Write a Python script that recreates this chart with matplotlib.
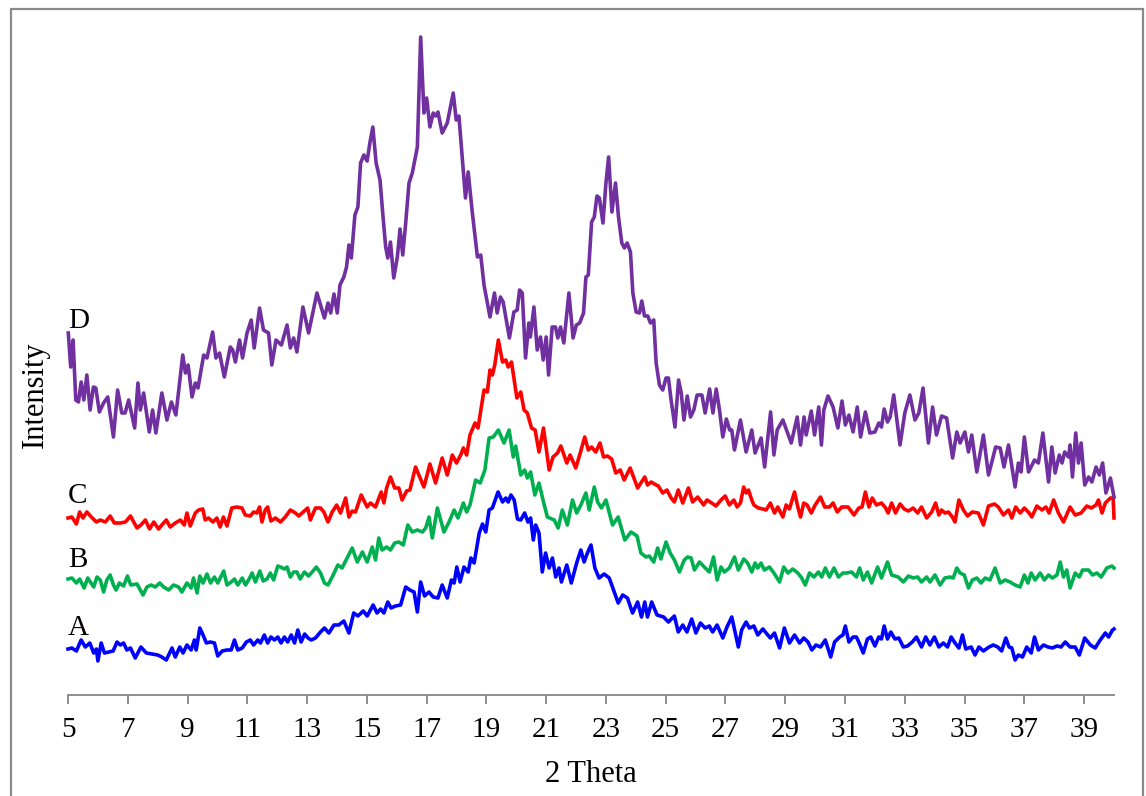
import matplotlib.pyplot as plt
from matplotlib.patches import Rectangle

# XRD patterns of the four samples (2 theta in degrees, intensity in arbitrary units,
# each trace already carries its own vertical offset)
a_theta = [5.00, 5.13, 5.28, 5.44, 5.58, 5.73, 5.86, 5.95, 6.00, 6.11, 6.22, 6.36, 6.51, 6.64, 6.75,
           6.86, 6.97, 7.09, 7.25, 7.44, 7.62, 7.81, 8.00, 8.14, 8.29, 8.48, 8.59, 8.74, 8.85, 8.98,
           9.12, 9.23, 9.29, 9.41, 9.52, 9.63, 9.76, 9.90, 10.01, 10.16, 10.32, 10.46, 10.57, 10.68,
           10.83, 10.97, 11.10, 11.21, 11.35, 11.44, 11.57, 11.68, 11.79, 11.91, 12.02, 12.13, 12.24,
           12.35, 12.47, 12.58, 12.69, 12.80, 12.92, 13.03, 13.14, 13.28,
           13.45, 13.58, 13.73, 13.90, 14.06, 14.23, 14.40, 14.56, 14.70, 14.88, 15.01, 15.21, 15.34,
           15.46, 15.57, 15.70, 15.81, 15.96, 16.13, 16.30, 16.44, 16.58, 16.69, 16.80, 16.93, 17.08,
           17.22, 17.38, 17.52, 17.69, 17.83, 17.92, 18.01, 18.12, 18.25, 18.39, 18.48, 18.59, 18.76,
           18.87, 18.98, 19.09, 19.20, 19.39, 19.54, 19.65, 19.73, 19.82, 19.93, 20.04, 20.15, 20.28,
           20.39, 20.48, 20.57, 20.65, 20.76, 20.87, 20.98, 21.10, 21.21, 21.32, 21.43, 21.51, 21.69,
           21.84, 22.02,
           22.16, 22.27, 22.38, 22.50, 22.63, 22.77, 22.94, 23.11, 23.28, 23.41, 23.56, 23.72, 23.89,
           24.06, 24.19, 24.30, 24.39, 24.53, 24.71, 24.93, 25.09, 25.29, 25.42, 25.57, 25.71, 25.87,
           26.01, 26.16, 26.32, 26.46, 26.57, 26.72, 26.91, 27.05, 27.21, 27.32, 27.43, 27.54, 27.69,
           27.80, 27.95, 28.08, 28.25, 28.36, 28.50, 28.64, 28.81, 28.97, 29.14, 29.31, 29.48, 29.62,
           29.76, 29.89, 30.03, 30.18, 30.34, 30.52, 30.65, 30.82, 30.93,
           31.01, 31.13, 31.27, 31.38, 31.46, 31.61, 31.75, 31.86, 32.00, 32.13, 32.22, 32.31, 32.42,
           32.53, 32.67, 32.80, 32.95, 33.09, 33.25, 33.39, 33.56, 33.70, 33.84, 33.99, 34.14, 34.29,
           34.43, 34.55, 34.68, 34.81, 34.93, 35.04, 35.22, 35.35, 35.48, 35.63, 35.82, 35.96, 36.11,
           36.24, 36.38, 36.49, 36.58, 36.69, 36.80, 36.94, 37.08, 37.23, 37.34, 37.47, 37.64, 37.79,
           37.94, 38.09, 38.23, 38.37, 38.53, 38.70, 38.84, 39.02, 39.21, 39.37, 39.54, 39.71, 39.82,
           39.95, 40.00]
a_int = [46, 47, 44, 55, 48, 52, 42, 46, 34, 52, 42, 43, 44, 53, 50,
         52, 45, 47, 37, 48, 42, 41, 40, 38, 35, 47, 38, 48, 42, 50,
         45, 55, 45, 67, 60, 52, 53, 52, 39, 44, 45, 45, 55, 45,
         47, 53, 55, 50, 55, 52, 60, 52, 58, 55, 58, 52, 58,
         53, 60, 52, 65, 53, 61, 57, 55, 57,
         63, 67, 62, 70, 70, 74, 62, 82, 79, 84, 79, 90, 82,
         86, 82, 93, 87, 89, 90, 108, 105, 103, 83, 113, 99, 103,
         98, 97, 110, 97, 115, 112, 128, 113, 128, 123, 137, 132, 162,
         171, 163, 185, 187, 203, 193, 197, 193, 200, 195, 176, 175, 182,
         173, 177, 155, 170, 162, 123, 142, 127, 137, 118, 127, 113, 130,
         112, 132,
         145, 133, 142, 150, 127, 117, 121, 117, 103, 92, 100, 97, 82,
         93, 78, 93, 78, 93, 80, 78, 73, 79, 63, 70, 63, 76,
         62, 72, 67, 69, 63, 70, 57, 68, 78, 63, 48, 65, 73,
         67, 69, 60, 66, 62, 57, 62, 47, 67, 52, 60, 52, 57,
         53, 45, 50, 48, 55, 38, 53, 58, 60,
         69, 53, 58, 58, 53, 42, 56, 58, 49, 58, 56, 69, 56,
         63, 56, 57, 48, 49, 53, 58, 48, 58, 50, 58, 48, 52,
         48, 58, 52, 47, 60, 46, 48, 40, 48, 44, 48, 50, 48,
         44, 57, 48, 47, 35, 40, 38, 48, 42, 58, 45, 50, 48,
         47, 49, 48, 53, 48, 48, 40, 57, 50, 47, 55, 62, 58,
         65, 66]

b_theta = [5.00, 5.13, 5.28, 5.39, 5.54, 5.66, 5.77, 5.86, 5.97, 6.08, 6.19, 6.30, 6.41, 6.52, 6.61,
           6.72, 6.86, 6.99, 7.10, 7.31, 7.51, 7.64, 7.78, 7.92, 8.07, 8.20, 8.37, 8.53, 8.70, 8.81,
           8.98, 9.12, 9.20, 9.32, 9.41, 9.52, 9.65, 9.77, 9.90, 10.01, 10.21, 10.32, 10.46, 10.57,
           10.68, 10.83, 10.94, 11.08, 11.16, 11.27, 11.42, 11.53, 11.66, 11.77, 11.88, 12.02, 12.11,
           12.24, 12.33, 12.44, 12.55, 12.66, 12.77, 12.91, 13.05, 13.20, 13.31,
           13.45, 13.58, 13.70, 13.84, 14.03, 14.17, 14.34, 14.51, 14.68, 14.85, 15.01, 15.18, 15.29,
           15.40, 15.51, 15.66, 15.79, 15.93, 16.07, 16.22, 16.37, 16.52, 16.69, 16.86, 16.97, 17.08,
           17.19, 17.36, 17.58, 17.75, 17.92, 18.05, 18.23, 18.34, 18.45, 18.64, 18.79, 18.95, 19.09,
           19.23, 19.40, 19.59, 19.76, 19.90, 19.98, 20.15, 20.28, 20.37, 20.48, 20.62, 20.76, 20.91,
           21.04, 21.27, 21.40, 21.54, 21.71, 21.88, 22.02,
           22.16, 22.33, 22.44, 22.61, 22.72, 22.85, 23.00, 23.22, 23.41, 23.63, 23.84, 24.04, 24.17,
           24.34, 24.45, 24.60, 24.73, 24.84, 25.01, 25.15, 25.29, 25.46, 25.62, 25.73, 25.85, 25.96,
           26.13, 26.29, 26.46, 26.60, 26.72, 26.85, 26.96, 27.13, 27.30, 27.43, 27.61, 27.74, 27.88,
           27.99, 28.08, 28.19, 28.30, 28.47, 28.62, 28.81, 28.95, 29.09, 29.25, 29.42, 29.55, 29.67,
           29.81, 29.96, 30.11, 30.22, 30.34, 30.48, 30.63, 30.78, 30.93,
           31.05, 31.22, 31.38, 31.49, 31.61, 31.75, 31.89, 32.09, 32.22, 32.42, 32.56, 32.78, 32.95,
           33.12, 33.28, 33.43, 33.56, 33.73, 33.84, 34.01, 34.18, 34.34, 34.51, 34.62, 34.74, 34.85,
           34.99, 35.13, 35.26, 35.41, 35.55, 35.69, 35.85, 36.02, 36.19, 36.36, 36.52, 36.69, 36.86,
           37.00, 37.12, 37.23, 37.36, 37.53, 37.67, 37.81, 37.94, 38.09, 38.20, 38.31, 38.42, 38.53,
           38.70, 38.84, 38.95, 39.15, 39.28, 39.43, 39.57, 39.76, 39.93, 40.00]
b_int = [116, 117, 112, 116, 107, 117, 112, 108, 118, 115, 103, 115, 120, 110, 105,
         112, 109, 119, 110, 111, 100, 108, 110, 108, 112, 108, 105, 110, 108, 103,
         112, 107, 117, 102, 119, 112, 121, 112, 118, 112, 124, 110, 113, 116,
         110, 117, 110, 117, 122, 113, 124, 114, 116, 122, 115, 129, 128,
         126, 128, 118, 123, 123, 116, 123, 119, 124, 128,
         122, 112, 110, 118, 130, 127, 137, 147, 133, 143, 133, 148, 135,
         157, 145, 148, 145, 152, 153, 150, 170, 163, 165, 163, 167, 178,
         157, 187, 163, 173, 185, 177, 192, 183, 190, 215, 212, 225, 257,
         258, 265, 252, 265, 238, 249, 220, 225, 217, 223, 200, 212, 193,
         178, 175, 167, 185, 170, 195, 182,
         190, 202, 185, 208, 193, 187, 195, 170, 178, 155, 163, 159, 142,
         138, 139, 133, 147, 136, 153, 142, 135, 123, 135, 138, 137, 125,
         133, 128, 123, 138, 115, 128, 123, 127, 138, 125, 136, 132, 123,
         132, 127, 132, 125, 128, 122, 113, 128, 122, 126, 122, 117, 110,
         122, 118, 123, 118, 127, 118, 127, 118, 122,
         122, 123, 118, 127, 115, 123, 112, 128, 117, 133, 120, 118, 113,
         119, 117, 118, 113, 118, 113, 120, 110, 117, 118, 117, 127, 122,
         120, 107, 115, 117, 112, 117, 115, 127, 112, 115, 113, 110, 108,
         120, 112, 122, 115, 122, 115, 120, 117, 120, 133, 118, 125, 107,
         122, 118, 125, 125, 120, 122, 118, 127, 129, 127]

c_theta = [5.00, 5.13, 5.28, 5.39, 5.50, 5.63, 5.78, 5.95, 6.08, 6.25, 6.41, 6.55, 6.75, 6.92, 7.09,
           7.31, 7.44, 7.59, 7.73, 7.87, 8.03, 8.14, 8.29, 8.42, 8.59, 8.76, 8.89, 8.98, 9.09, 9.26,
           9.37, 9.51, 9.59, 9.70, 9.85, 9.98, 10.09, 10.20, 10.32, 10.48, 10.65, 10.82, 10.93, 11.10,
           11.21, 11.32, 11.41, 11.49, 11.60, 11.68, 11.79, 11.94, 12.11, 12.27, 12.44, 12.61, 12.72,
           12.87, 13.02, 13.11, 13.28,
           13.45, 13.56, 13.70, 13.84, 13.99, 14.12, 14.29, 14.40, 14.51, 14.62, 14.81, 15.01, 15.12,
           15.29, 15.48, 15.57, 15.66, 15.79, 15.93, 16.07, 16.18, 16.33, 16.44, 16.63, 16.74, 16.91,
           17.11, 17.30, 17.52, 17.69, 17.86, 18.00, 18.14, 18.23, 18.34, 18.45, 18.62, 18.72, 18.92,
           19.03, 19.12, 19.20, 19.28, 19.40, 19.54, 19.65, 19.73, 19.84, 20.02, 20.15, 20.26, 20.37,
           20.51, 20.63, 20.76, 20.91, 21.10, 21.23, 21.38, 21.49, 21.69, 21.80, 21.99, 22.14,
           22.29, 22.41, 22.52, 22.66, 22.80, 22.92, 23.05, 23.19, 23.33, 23.48, 23.61, 23.81, 24.06,
           24.30, 24.39, 24.51, 24.62, 24.75, 24.90, 25.04, 25.18, 25.29, 25.42, 25.57, 25.76, 25.90,
           26.07, 26.27, 26.38, 26.54, 26.68, 26.85, 26.99, 27.13, 27.28, 27.39, 27.50, 27.61, 27.69,
           27.77, 27.88, 27.95, 28.10, 28.25, 28.36, 28.50, 28.64, 28.75, 28.92, 29.03, 29.14, 29.31,
           29.42, 29.51, 29.62, 29.73, 29.87, 30.00, 30.18, 30.32, 30.48, 30.60, 30.74, 30.89,
           31.10, 31.30, 31.46, 31.57, 31.68, 31.80, 31.91, 32.05, 32.22, 32.36, 32.44, 32.56, 32.69,
           32.84, 32.98, 33.12, 33.28, 33.43, 33.56, 33.73, 33.90, 34.03, 34.14, 34.23, 34.34, 34.46,
           34.59, 34.68, 34.81, 34.96, 35.10, 35.26, 35.46, 35.63, 35.80, 36.00, 36.13, 36.30, 36.47,
           36.58, 36.71, 36.86, 37.00, 37.16, 37.25, 37.42, 37.59, 37.72, 37.83, 37.98, 38.14, 38.31,
           38.53, 38.70, 38.90, 39.09, 39.24, 39.40, 39.48, 39.60, 39.71, 39.88, 39.97, 40.00]
c_int = [177, 178, 171, 183, 177, 183, 178, 173, 175, 173, 179, 172, 172, 173, 179,
         167, 170, 175, 166, 173, 166, 170, 175, 168, 172, 175, 170, 182, 169, 182,
         185, 186, 175, 177, 173, 177, 168, 178, 169, 187, 188, 187, 180, 179,
         183, 182, 188, 173, 185, 188, 174, 177, 173, 178, 185, 182, 179,
         183, 187, 175, 187,
         187, 183, 173, 183, 190, 182, 197, 178, 184, 183, 200, 188, 192,
         188, 203, 192, 207, 218, 207, 207, 195, 204, 205, 228, 220, 208,
         231, 212, 237, 220, 240, 232, 240, 247, 240, 260, 272, 267, 305,
         303, 325, 320, 330, 355, 333, 335, 328, 333, 297, 303, 285, 282,
         267, 265, 243, 267, 225, 238, 242, 249, 232, 240, 227, 242,
         258, 245, 248, 243, 252, 238, 239, 236, 222, 225, 215, 227, 207,
         218, 210, 213, 211, 209, 202, 205, 197, 193, 205, 192, 207, 193,
         198, 190, 195, 192, 189, 195, 199, 190, 195, 188, 192, 208, 202,
         205, 195, 190, 187, 186, 185, 192, 182, 188, 178, 190, 186, 203,
         188, 178, 192, 190, 182, 190, 198, 188, 188, 192, 183, 188,
         188, 180, 187, 188, 203, 188, 197, 190, 192, 187, 182, 192, 182,
         191, 186, 184, 187, 182, 188, 177, 183, 192, 180, 185, 182, 183,
         178, 173, 195, 185, 179, 183, 182, 170, 189, 191, 188, 180, 185,
         177, 188, 182, 187, 182, 178, 189, 185, 188, 182, 195, 182, 173,
         188, 180, 182, 189, 187, 190, 195, 182, 192, 197, 197, 177]

d_theta = [5.01, 5.09, 5.17, 5.26, 5.35, 5.44, 5.53, 5.63, 5.74, 5.85, 5.93, 6.05, 6.19, 6.33, 6.52,
           6.66, 6.80, 6.91, 7.03, 7.23, 7.34, 7.42, 7.53, 7.72, 7.83, 7.94, 8.14, 8.31, 8.46, 8.61,
           8.84, 8.93, 9.02, 9.15, 9.26, 9.35, 9.54, 9.65, 9.84, 9.95, 10.07, 10.23, 10.43, 10.51,
           10.60, 10.74, 10.84, 10.99, 11.13, 11.23, 11.41, 11.54, 11.71, 11.82, 11.96, 12.14, 12.33,
           12.44, 12.55, 12.66, 12.86, 13.05, 13.33,
           13.58, 13.70, 13.79, 13.90, 14.01, 14.10, 14.23, 14.32, 14.40, 14.48, 14.60, 14.70, 14.79,
           14.90, 15.01, 15.10, 15.20, 15.31, 15.44, 15.55, 15.63, 15.70, 15.79, 15.90, 16.02, 16.11,
           16.20, 16.30, 16.41, 16.52, 16.69, 16.80, 16.91, 17.00, 17.11, 17.22, 17.30, 17.38, 17.52,
           17.69, 17.89, 17.99, 18.08, 18.19, 18.30, 18.39, 18.53, 18.70, 18.81, 18.92, 19.12, 19.27,
           19.36, 19.47, 19.56, 19.77, 19.92, 20.03, 20.11, 20.20, 20.31, 20.42, 20.47, 20.59, 20.70,
           20.81, 20.90, 21.00, 21.08, 21.20, 21.31, 21.39, 21.48, 21.59, 21.76, 21.90, 22.01, 22.12,
           22.25, 22.33, 22.41, 22.52, 22.61, 22.70, 22.78, 22.90, 23.00, 23.09, 23.20, 23.32, 23.42,
           23.53, 23.62, 23.71, 23.82, 23.90, 24.01, 24.12, 24.20, 24.29, 24.40, 24.49, 24.60, 24.68,
           24.79, 24.90, 25.01, 25.09, 25.18, 25.31, 25.43, 25.52, 25.61, 25.72, 25.83, 25.94, 26.05,
           26.21, 26.32, 26.47, 26.58, 26.69, 26.80, 26.91, 27.03, 27.14, 27.21,
           27.30, 27.50, 27.69, 27.88, 27.99, 28.19, 28.31, 28.51, 28.62, 28.73, 28.92, 29.20, 29.40,
           29.51, 29.63, 29.70, 29.87, 29.98, 30.12, 30.21, 30.29, 30.43, 30.60, 30.76, 30.90,
           31.01, 31.13, 31.27, 31.41, 31.52, 31.68, 31.83, 32.00, 32.13, 32.22, 32.31, 32.42, 32.51,
           32.63, 32.84, 33.00, 33.17, 33.34, 33.47, 33.61, 33.79, 33.93, 34.06, 34.23, 34.40, 34.60,
           34.74, 34.85, 35.01, 35.13, 35.24, 35.41, 35.63, 35.80, 36.04, 36.19, 36.32, 36.47, 36.69,
           36.80, 36.89, 37.00, 37.14, 37.34, 37.47, 37.62, 37.81, 37.92, 38.03, 38.17, 38.26, 38.35,
           38.48, 38.53, 38.61, 38.72, 38.81, 38.90, 39.02, 39.15, 39.26, 39.40, 39.51, 39.62, 39.73,
           39.88, 40.00]
d_int = [362, 328, 355, 295, 293, 313, 295, 320, 285, 308, 307, 283, 292, 298, 258,
         305, 282, 282, 295, 267, 312, 285, 302, 263, 285, 262, 302, 275, 293, 280,
         340, 322, 330, 298, 312, 307, 340, 337, 363, 337, 342, 318, 348, 345,
         333, 355, 337, 362, 375, 347, 387, 365, 362, 330, 355, 350, 370,
         347, 357, 343, 388, 362, 402,
         377, 392, 382, 401, 382, 410, 418, 428, 450, 437, 480, 488, 532,
         540, 534, 552, 568, 532, 515, 475, 448, 437, 453, 417, 438, 466,
         440, 472, 512, 522, 548, 658, 582, 597, 568, 582, 579, 583, 562,
         572, 602, 575, 579, 538, 497, 523, 482, 438, 440, 410, 378, 402,
         382, 398, 393, 357, 383, 385, 405, 402, 337, 372, 358, 388, 345,
         358, 335, 358, 320, 368, 368, 357, 368, 352, 402, 357, 370, 372,
         382, 418, 420, 473, 478, 499, 497, 472, 512, 538, 483, 512, 478,
         452, 447, 452, 443, 402, 383, 382, 394, 379, 379, 372, 375, 332,
         310, 305, 317, 317, 295, 268, 315, 302, 275, 299, 278, 285, 300,
         300, 282, 306, 282, 306, 285, 258, 276, 265, 265,
         245, 275, 243, 265, 242, 257, 228, 283, 240, 265, 275, 252, 278,
         250, 278, 260, 284, 260, 288, 250, 285, 299, 288, 267, 294,
         270, 280, 263, 288, 258, 283, 262, 263, 272, 268, 286, 273, 278,
         300, 250, 282, 300, 275, 282, 307, 252, 288, 260, 279, 277, 237,
         263, 252, 263, 243, 260, 223, 260, 220, 248, 247, 228, 250, 208,
         232, 223, 258, 223, 235, 232, 262, 213, 248, 222, 240, 232, 243,
         238, 250, 218, 262, 232, 252, 210, 218, 213, 228, 220, 232, 202,
         217, 198]

labels = ['A', 'B', 'C', 'D']
label_y = [60, 128, 192, 367]
colors = ['#0000FF', '#00B050', '#FF0000', '#7030A0']
series = [(a_theta, a_int), (b_theta, b_int), (c_theta, c_int), (d_theta, d_int)]
x_ticks = list(range(5, 40, 2))

plt.rcParams['font.family'] = ['Liberation Serif', 'DejaVu Serif']

fig = plt.figure(figsize=(11.46, 7.96), dpi=100)
ax = fig.add_axes([68 / 1146, 101 / 796, 1046 / 1146, 680 / 796])

# one trace per sample, stacked A (bottom) to D (top)
for (tt, yy), col in zip(series, colors):
    ax.plot(tt, yy, color=col, linewidth=2.6, solid_joinstyle='round', clip_on=False)

for lab, yl in zip(labels, label_y):
    ax.text(5.0, yl, lab, fontsize=21, ha='left', va='baseline', color='black')

ax.set_xlim(5, 40)
ax.set_ylim(0, 680)
ax.set_xticks(x_ticks)
ax.set_xticklabels([str(t) for t in x_ticks])
ax.set_yticks([])

for side in ['left', 'right', 'top']:
    ax.spines[side].set_visible(False)
ax.spines['bottom'].set_color('#868686')
ax.spines['bottom'].set_linewidth(1.3)
ax.tick_params(axis='x', direction='out', length=6.5, width=1.3, color='#868686',
               labelsize=21, pad=9)

fig.text(591 / 1146, 1 - 775 / 796, '2 Theta', fontsize=22, ha='center', va='center')
fig.text(35 / 1146, 1 - 395 / 796, 'Intensity', fontsize=22, ha='center', va='center',
         rotation=90)

# thin grey frame around the chart area
fig.patches.append(Rectangle((10.5 / 1146, -0.05), 1132.5 / 1146, 1.05 - 9.5 / 796,
                             transform=fig.transFigure, fill=False,
                             edgecolor='#8a8a8a', linewidth=1.6))

fig.savefig('out.png', dpi=100)
